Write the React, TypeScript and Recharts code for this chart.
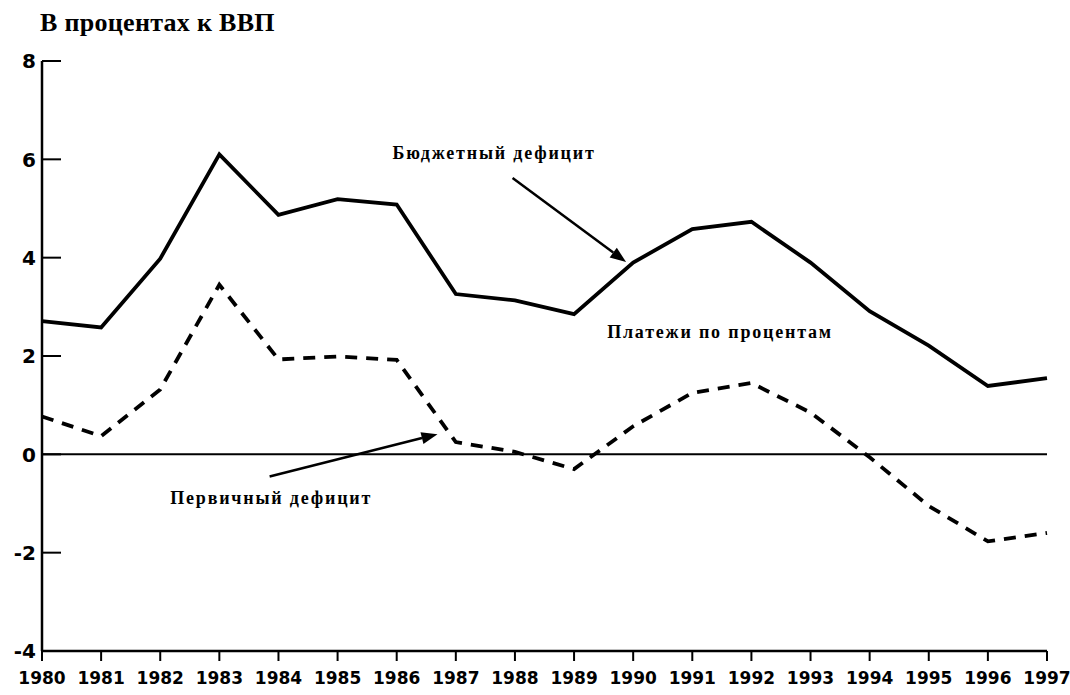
import React from 'react';
import { LineChart, Line, XAxis, YAxis, ReferenceLine, ReferenceDot } from 'recharts';

const years = [1980, 1981, 1982, 1983, 1984, 1985, 1986, 1987, 1988, 1989, 1990, 1991, 1992, 1993, 1994, 1995, 1996, 1997];
const budgetDeficit = [2.71, 2.58, 3.98, 6.1, 4.87, 5.19, 5.08, 3.26, 3.13, 2.85, 3.9, 4.58, 4.73, 3.9, 2.91, 2.21, 1.39, 1.55];
const primaryDeficit = [0.77, 0.37, 1.32, 3.45, 1.93, 1.99, 1.92, 0.25, 0.05, -0.3, 0.57, 1.25, 1.45, 0.85, -0.06, -1.05, -1.77, -1.6];
const yTicks = [-4, -2, 0, 2, 4, 6, 8];

const titleText = 'В процентах к ВВП';
const budgetLabel = 'Бюджетный дефицит';
const interestLabel = 'Платежи по процентам';
const primaryLabel = 'Первичный дефицит';

const data = years.map((y, i) => ({ year: y, budget: budgetDeficit[i], primary: primaryDeficit[i] }));

const serif = '"Liberation Serif", "DejaVu Serif", serif';
const sans = '"DejaVu Sans", sans-serif';

const YTick = (props: any) => {
  const { x, y, payload } = props;
  return (
    <g>
      <text x={x} y={y} dy="0.36em" textAnchor="end" fontFamily={sans} fontWeight="bold" fontSize={20} fill="#000">
        {payload.value}
      </text>
      <line x1={x + 6} x2={x + 25} y1={y} y2={y} stroke="#000" strokeWidth={2} />
    </g>
  );
};

const XTick = (props: any) => {
  const { x, y, payload } = props;
  return (
    <text x={x} y={y} dy="0.71em" textAnchor="middle" fontFamily={sans} fontWeight="bold" fontSize={17} fill="#000">
      {payload.value}
    </text>
  );
};

const arrowShape = (props: any) => {
  const { x1, y1, x2, y2 } = props;
  const ang = Math.atan2(y2 - y1, x2 - x1);
  const len = 16;
  const w = 6;
  const bx = x2 - len * Math.cos(ang);
  const by = y2 - len * Math.sin(ang);
  const px = -Math.sin(ang) * w;
  const py = Math.cos(ang) * w;
  return (
    <g>
      <line x1={x1} y1={y1} x2={bx} y2={by} stroke="#000" strokeWidth={2.5} />
      <polygon points={`${x2},${y2} ${bx + px},${by + py} ${bx - px},${by - py}`} fill="#000" />
    </g>
  );
};

const textLabel = (value: string) => (props: any) => {
  const { viewBox } = props;
  return (
    <text x={viewBox.x} y={viewBox.y} fontFamily={serif} fontWeight="bold" fontSize={18} letterSpacing={1.8} fill="#000">
      {value}
    </text>
  );
};

export default function App() {
  return (
    <div style={{ position: 'absolute', left: 0, top: 0, width: 1070, height: 695, background: '#fff' }}>
      <div
        style={{
          position: 'absolute',
          left: 40,
          top: 8,
          fontFamily: serif,
          fontWeight: 'bold',
          fontSize: 26,
          letterSpacing: 0.3,
          color: '#000',
          whiteSpace: 'nowrap',
        }}
      >
        {titleText}
      </div>
      <LineChart width={1070} height={695} data={data} margin={{ top: 61, right: 23, bottom: 0, left: 0 }}>
        <XAxis
          dataKey="year"
          type="number"
          domain={[1980, 1997]}
          ticks={years}
          interval={0}
          tickSize={10}
          tickMargin={11}
          height={44}
          stroke="#000"
          axisLine={{ stroke: '#000', strokeWidth: 2.5 }}
          tickLine={{ stroke: '#000', strokeWidth: 2 }}
          tick={<XTick />}
        />
        <XAxis xAxisId="top" orientation="top" height={0} tick={false} tickLine={false} axisLine={{ stroke: '#000', strokeWidth: 2 }} />
        <YAxis
          domain={[-4, 8]}
          ticks={yTicks}
          interval={0}
          width={42}
          tickSize={0}
          tickMargin={6}
          tickLine={false}
          axisLine={{ stroke: '#000', strokeWidth: 2.5 }}
          tick={<YTick />}
        />
        <YAxis yAxisId="right" orientation="right" width={0} tick={false} tickLine={false} axisLine={{ stroke: '#000', strokeWidth: 2 }} />
        <ReferenceLine y={0} stroke="#000" strokeWidth={2} />
        <Line dataKey="budget" stroke="#000" strokeWidth={3.8} dot={false} isAnimationActive={false} />
        <Line dataKey="primary" stroke="#000" strokeWidth={3.8} strokeDasharray="12 9" dot={false} isAnimationActive={false} />
        <ReferenceLine segment={[{ x: 1987.96, y: 5.62 }, { x: 1989.88, y: 3.91 }]} shape={arrowShape} />
        <ReferenceLine segment={[{ x: 1983.85, y: -0.45 }, { x: 1986.69, y: 0.41 }]} shape={arrowShape} />
        <ReferenceDot x={1985.93} y={6.0} r={0} fill="none" stroke="none" label={textLabel(budgetLabel)} />
        <ReferenceDot x={1989.56} y={2.36} r={0} fill="none" stroke="none" label={textLabel(interestLabel)} />
        <ReferenceDot x={1982.17} y={-1.02} r={0} fill="none" stroke="none" label={textLabel(primaryLabel)} />
      </LineChart>
    </div>
  );
}
